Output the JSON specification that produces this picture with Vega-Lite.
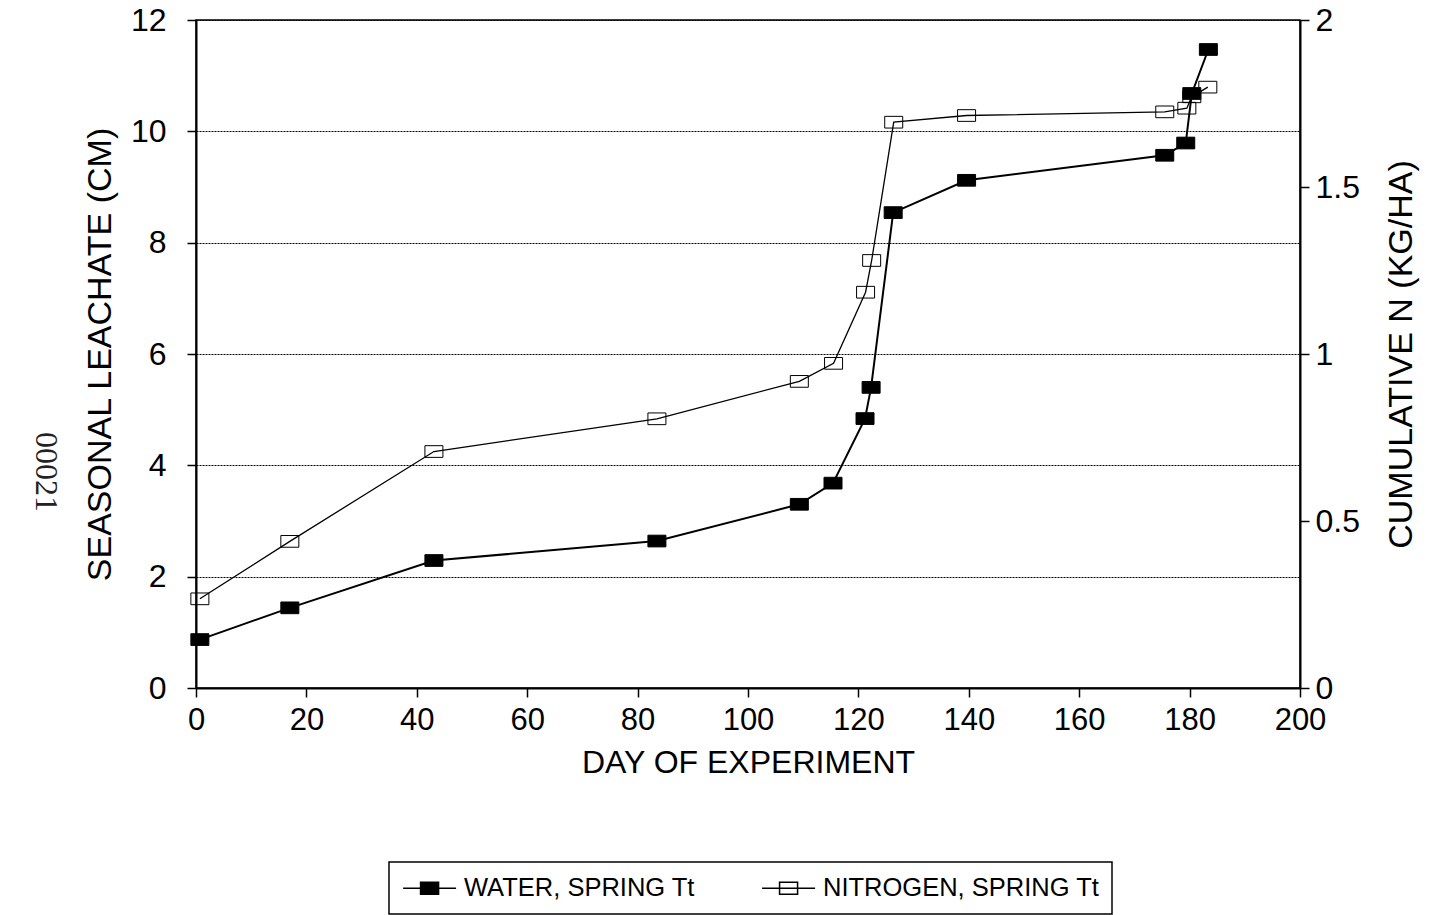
{
  "$schema": "https://vega.github.io/schema/vega-lite/v6.json",
  "width": 1104,
  "height": 668,
  "autosize": {"type": "none"},
  "padding": {"left": 196, "top": 20, "right": 139, "bottom": 227},
  "background": "white",
  "title": {
    "text": "00021",
    "orient": "left",
    "angle": 90,
    "font": "Liberation Serif",
    "fontSize": 32,
    "fontWeight": "normal",
    "color": "#222",
    "anchor": "middle",
    "align": "center",
    "baseline": "middle",
    "dx": 118,
    "offset": 5
  },
  "datasets": {
    "water": [
      {"day": 0.7, "series": "WATER, SPRING Tt", "value": 0.87},
      {"day": 17.0, "series": "WATER, SPRING Tt", "value": 1.44},
      {"day": 43.1, "series": "WATER, SPRING Tt", "value": 2.29},
      {"day": 83.5, "series": "WATER, SPRING Tt", "value": 2.64},
      {"day": 109.3, "series": "WATER, SPRING Tt", "value": 3.30},
      {"day": 115.4, "series": "WATER, SPRING Tt", "value": 3.68},
      {"day": 121.2, "series": "WATER, SPRING Tt", "value": 4.84},
      {"day": 122.3, "series": "WATER, SPRING Tt", "value": 5.40},
      {"day": 126.3, "series": "WATER, SPRING Tt", "value": 8.54},
      {"day": 139.6, "series": "WATER, SPRING Tt", "value": 9.12},
      {"day": 175.5, "series": "WATER, SPRING Tt", "value": 9.57},
      {"day": 179.3, "series": "WATER, SPRING Tt", "value": 9.79},
      {"day": 180.4, "series": "WATER, SPRING Tt", "value": 10.68},
      {"day": 183.4, "series": "WATER, SPRING Tt", "value": 11.47}
    ],
    "nitrogen": [
      {"day": 0.7, "series": "NITROGEN, SPRING Tt", "value": 0.267},
      {"day": 17.0, "series": "NITROGEN, SPRING Tt", "value": 0.439},
      {"day": 43.1, "series": "NITROGEN, SPRING Tt", "value": 0.708},
      {"day": 83.5, "series": "NITROGEN, SPRING Tt", "value": 0.806},
      {"day": 109.3, "series": "NITROGEN, SPRING Tt", "value": 0.918},
      {"day": 115.5, "series": "NITROGEN, SPRING Tt", "value": 0.972},
      {"day": 121.3, "series": "NITROGEN, SPRING Tt", "value": 1.185},
      {"day": 122.4, "series": "NITROGEN, SPRING Tt", "value": 1.28},
      {"day": 126.4, "series": "NITROGEN, SPRING Tt", "value": 1.694},
      {"day": 139.6, "series": "NITROGEN, SPRING Tt", "value": 1.714},
      {"day": 175.5, "series": "NITROGEN, SPRING Tt", "value": 1.725},
      {"day": 179.5, "series": "NITROGEN, SPRING Tt", "value": 1.736},
      {"day": 180.4, "series": "NITROGEN, SPRING Tt", "value": 1.77},
      {"day": 183.3, "series": "NITROGEN, SPRING Tt", "value": 1.799}
    ]
  },
  "layer": [
    {
      "data": {"name": "water"},
      "encoding": {
        "x": {
          "field": "day", "type": "quantitative",
          "scale": {"domain": [0, 200], "nice": false, "zero": false},
          "axis": {
            "title": "DAY OF EXPERIMENT",
            "values": [0, 20, 40, 60, 80, 100, 120, 140, 160, 180, 200],
            "format": "d",
            "grid": false,
            "labelFlush": false,
            "labelFontSize": 31,
            "labelPadding": 8,
            "tickSize": 9,
            "titleFontSize": 32,
            "titlePadding": 12
          }
        },
        "y": {
          "field": "value", "type": "quantitative",
          "scale": {"domain": [0, 12], "nice": false, "zero": true},
          "axis": {
            "orient": "left",
            "title": "SEASONAL LEACHATE (CM)",
            "values": [0, 2, 4, 6, 8, 10, 12],
            "format": "d",
            "grid": true,
            "gridColor": "#000",
            "gridOpacity": 1,
            "gridDash": [2, 1],
            "gridWidth": 1,
            "labelFlush": false,
            "labelFontSize": 32,
            "labelPadding": 21,
            "tickSize": 9,
            "titleFontSize": 34,
            "titlePadding": 13
          }
        }
      },
      "layer": [
        {"mark": {"type": "line", "color": "black", "strokeWidth": 2}},
        {
          "mark": {"type": "point", "shape": "M-1,-0.65H1V0.65H-1Z", "size": 324, "filled": true, "opacity": 1, "stroke": "black", "strokeWidth": 1},
          "encoding": {
            "fill": {
              "field": "series", "type": "nominal",
              "scale": {"domain": ["WATER, SPRING Tt", "NITROGEN, SPRING Tt"], "range": ["black", "transparent"]},
              "legend": {
                "title": null,
                "orient": "none",
                "legendX": 193,
                "legendY": 842,
                "direction": "horizontal",
                "columns": 2,
                "symbolType": "M-0.9,0H3.1M0.42,-0.45H1.78V0.45H0.42Z",
                "symbolSize": 702,
                "symbolStrokeColor": "black",
                "symbolStrokeWidth": 1.5,
                "labelFontSize": 25.5,
                "labelColor": "black",
                "labelLimit": 0,
                "labelOffset": 35,
                "columnPadding": 64,
                "padding": 12,
                "strokeColor": "black"
              }
            }
          }
        }
      ]
    },
    {
      "data": {"name": "nitrogen"},
      "encoding": {
        "x": {"field": "day", "type": "quantitative", "scale": {"domain": [0, 200], "nice": false, "zero": false}},
        "y": {
          "field": "value", "type": "quantitative",
          "scale": {"domain": [0, 2], "nice": false, "zero": true},
          "axis": {
            "orient": "right",
            "title": "CUMULATIVE N (KG/HA)",
            "values": [0, 0.5, 1, 1.5, 2],
            "format": ".1~f",
            "grid": false,
            "labelFlush": false,
            "labelFontSize": 32,
            "labelPadding": 6,
            "tickSize": 9,
            "titleFontSize": 34,
            "titleAngle": 270,
            "titleBaseline": "top",
            "titlePadding": 25
          }
        }
      },
      "layer": [
        {"mark": {"type": "line", "color": "black", "strokeWidth": 1.3}},
        {
          "mark": {"type": "point", "shape": "M-1,-0.65H1V0.65H-1Z", "size": 324, "filled": true, "opacity": 1, "stroke": "black", "strokeWidth": 1},
          "encoding": {
            "fill": {"field": "series", "type": "nominal"}
          }
        }
      ]
    }
  ],
  "resolve": {"scale": {"y": "independent"}},
  "config": {
    "font": "Liberation Sans",
    "view": {"stroke": "black", "strokeWidth": 1.5},
    "axis": {
      "domainColor": "black",
      "domainWidth": 2,
      "tickColor": "black",
      "tickWidth": 1.5,
      "labelColor": "black",
      "titleColor": "black",
      "titleFontWeight": "normal",
      "labelFont": "Liberation Sans",
      "titleFont": "Liberation Sans"
    },
    "legend": {"strokeWidth": 1.5, "labelFont": "Liberation Sans"}
  }
}
